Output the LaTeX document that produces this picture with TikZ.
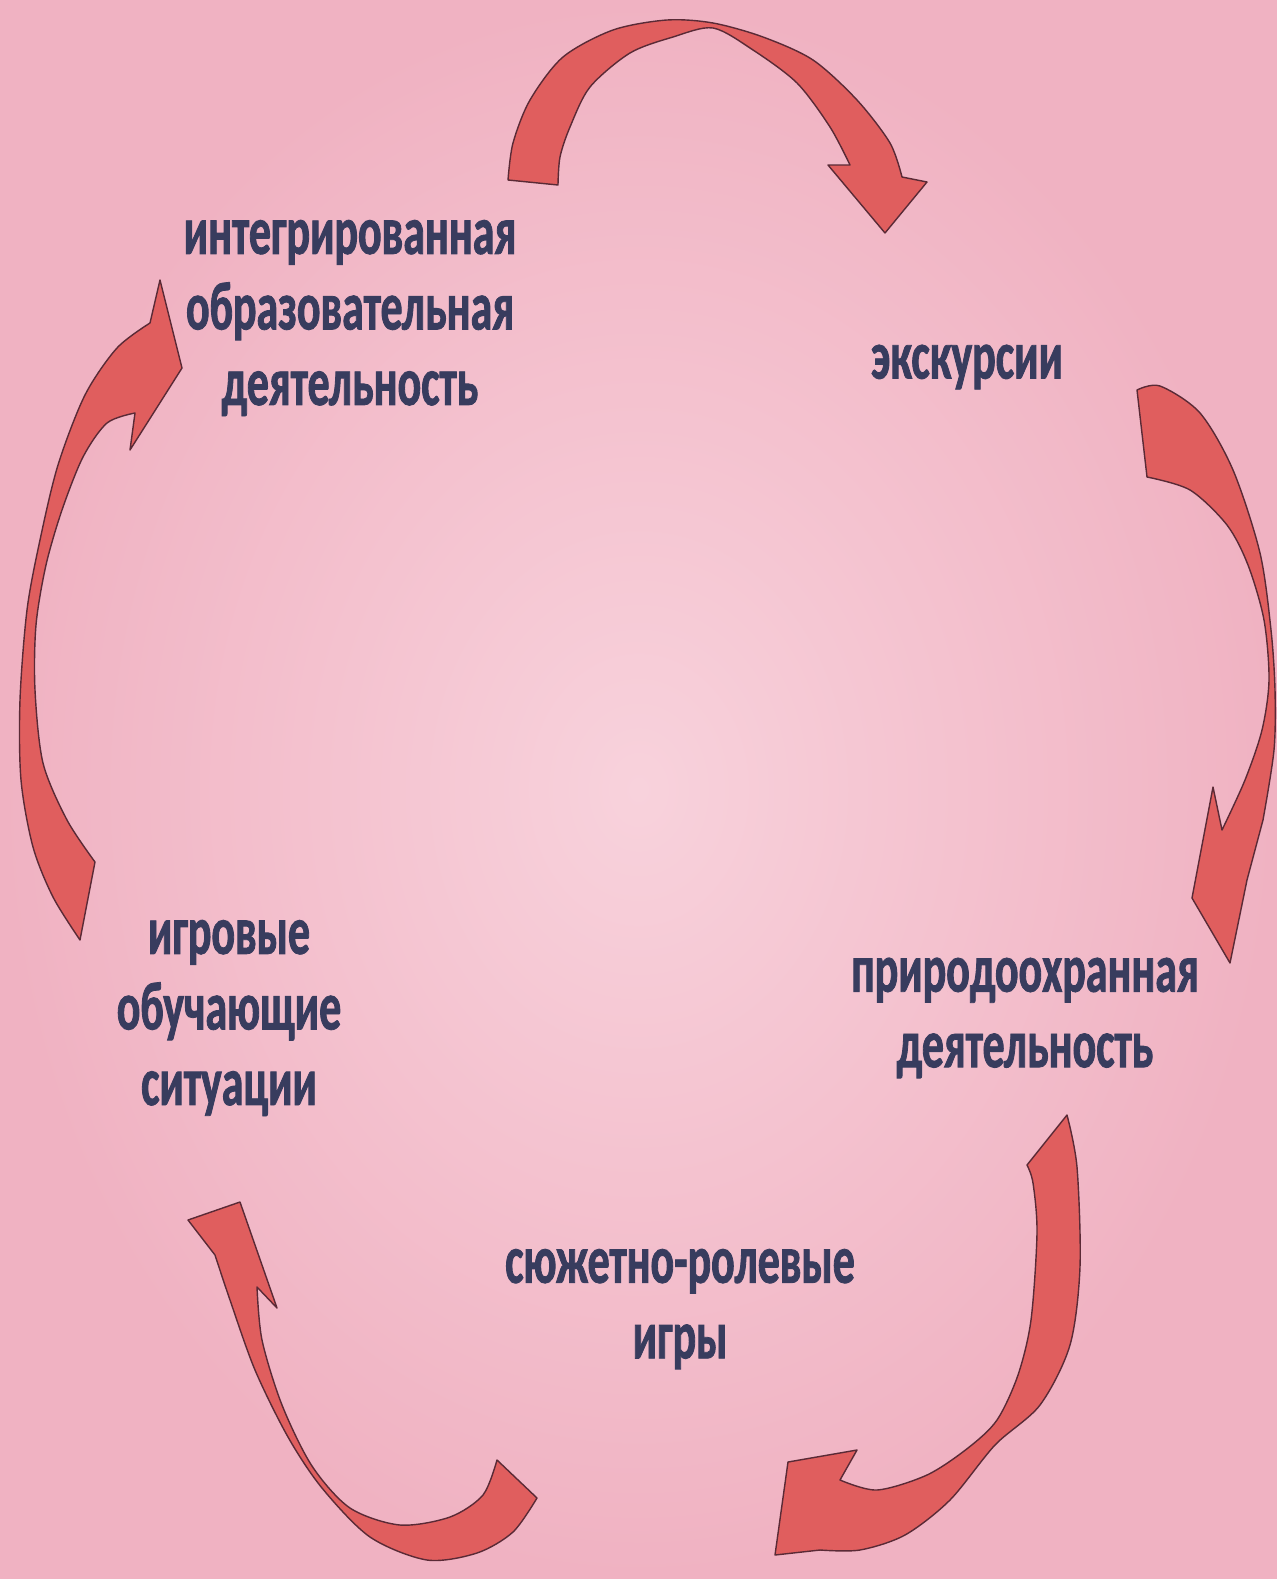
\documentclass[tikz,border=0pt]{standalone}
\usepackage{fontspec}
\setmainfont{Carlito}
\newfontfamily\topicfont{Carlito}[FakeStretch=0.64,BoldFeatures={FakeBold=1.2}]
\usepackage{tikz}
\definecolor{blush}{HTML}{F0B2C2}
\definecolor{blushlight}{HTML}{F8D2DC}
\definecolor{coral}{HTML}{E05E5E}
\definecolor{wine}{HTML}{5A2A36}
\definecolor{slate}{HTML}{383C5E}
\tikzset{
  topic/.style={align=center,text=slate,inner sep=0pt,font=\topicfont\bfseries\fontsize{39}{43}\selectfont},
  band/.style={fill=coral,draw=wine,line width=0.8pt,line join=round}
}

\begin{document}
\begin{tikzpicture}[x=0.02cm,y=-0.02cm]
\useasboundingbox (0,0) rectangle (1277,1579);
\fill[blush] (0,0) rectangle (1277,1579);
\shade[inner color=blushlight,outer color=blush] (0,0) rectangle (1277,1579);

\node[topic] (ood) at (350,318) {интегрированная\\образовательная\\деятельность};
\node[topic] (exc) at (967,367) {экскурсии};
\node[topic] (nat) at (1025,1018) {природоохранная\\деятельность};
\node[topic] (rpg) at (680,1309) {сюжетно-ролевые\\игры};
\node[topic] (sit) at (229,1018) {игровые\\обучающие\\ситуации};

\filldraw[band] plot[smooth] coordinates {(508,180) (513,143) (530,100) (563,57) (613,30) (667,20) (713,23) (763,37) (813,60) (857,100) (890,143) (902,177)}
  -- (927,182) -- (885,233) -- (828,165) -- (850,165)
  -- plot[smooth] coordinates {(850,165) (830,127) (797,83) (753,50) (713,28) (673,37) (630,53) (590,87) (570,127) (560,157) (558,185)} -- cycle;
\filldraw[band] plot[smooth] coordinates {(1137,390) (1160,386) (1200,413) (1233,470) (1260,553) (1271,630) (1275,690) (1274,750) (1263,820)}
  -- (1247,880) -- (1230,963) -- (1192,898) -- (1213,787) -- (1222,830)
  -- plot[smooth] coordinates {(1222,830) (1245,780) (1262,730) (1269,680) (1264,620) (1248,565) (1227,525) (1190,490) (1147,477)} -- cycle;
\filldraw[band] plot[smooth] coordinates {(1067,1115) (1077,1167) (1080,1267) (1070,1345) (1040,1405) (995,1445) (950,1500) (905,1535) (860,1550) (820,1550)}
  -- (775,1555) -- (788,1462) -- (857,1450) -- (840,1480)
  -- plot[smooth] coordinates {(840,1480) (877,1490) (927,1475) (968,1448) (997,1420) (1018,1375) (1031,1320) (1037,1233) (1033,1183) (1027,1165)} -- cycle;
\filldraw[band] plot[smooth] coordinates {(537,1498) (513,1532) (477,1553) (427,1560) (370,1537) (322,1488) (288,1437) (255,1370) (230,1300) (215,1255)}
  -- (188,1220) -- (240,1202) -- (277,1308) -- (257,1287)
  -- plot[smooth] coordinates {(257,1287) (262,1340) (282,1405) (312,1466) (350,1508) (400,1525) (450,1517) (483,1495) (497,1460)} -- cycle;
\filldraw[band] plot[smooth] coordinates {(80,940) (53,897) (33,847) (21,780) (20,700) (27,610) (40,540) (58,465) (85,395) (117,348) (150,323)}
  -- (160,280) -- (182,368) -- (130,450) -- (135,413)
  -- plot[smooth] coordinates {(135,413) (107,423) (83,457) (62,510) (46,565) (36,625) (35,690) (43,763) (67,820) (95,862)} -- cycle;
\end{tikzpicture}
\end{document}
